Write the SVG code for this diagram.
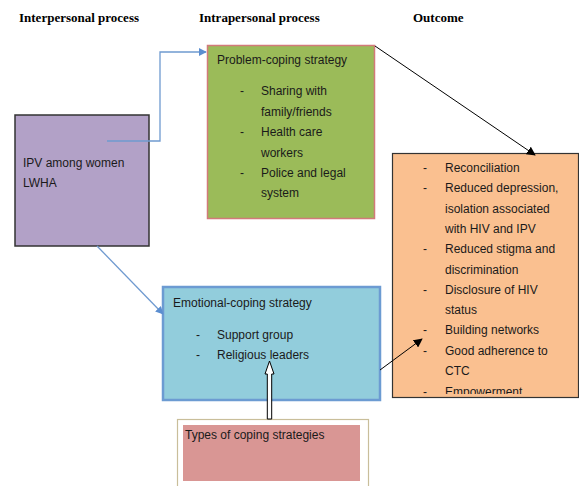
<svg xmlns="http://www.w3.org/2000/svg" width="579" height="486" viewBox="0 0 579 486">
<style>
.h{font-family:"Liberation Serif",serif;font-weight:bold;font-size:13px;fill:#000}
.t{font-family:"Liberation Sans",Arial,sans-serif;font-size:12px;fill:#1a1a1a}
</style>
<defs>
<marker id="ab" viewBox="0 0 10 10" refX="9" refY="5" markerWidth="8" markerHeight="8" markerUnits="userSpaceOnUse" orient="auto"><path d="M0,0L10,5L0,10z" fill="#5b8ed0"/></marker>
<marker id="ak" viewBox="0 0 10 10" refX="9" refY="5" markerWidth="9" markerHeight="9" markerUnits="userSpaceOnUse" orient="auto"><path d="M0,0L10,5L0,10z" fill="#000"/></marker>
<clipPath id="oc"><rect x="392" y="153" width="187" height="241"/></clipPath>
</defs>
<rect width="579" height="486" fill="#fff"/>
<text class="h" x="19" y="22">Interpersonal process</text>
<text class="h" x="199" y="22">Intrapersonal process</text>
<text class="h" x="413" y="22">Outcome</text>

<g id="ipv">
<rect x="15" y="115" width="134" height="131" fill="#B2A1C7" stroke="#333" stroke-width="1.5"/>
<text class="t" x="23" y="167">IPV among women</text>
<text class="t" x="23" y="187">LWHA</text>
</g>

<g id="problem">
<rect x="207.5" y="45.5" width="167" height="173" fill="#9BBB59" stroke="#D27A7A" stroke-width="1.5"/>
<text class="t" x="217" y="64">Problem-coping strategy</text>
<g class="t">
<text x="240" y="95">-</text><text x="261" y="95">Sharing with</text>
<text x="261" y="116">family/friends</text>
<text x="240" y="136">-</text><text x="261" y="136">Health care</text>
<text x="261" y="157">workers</text>
<text x="240" y="177">-</text><text x="261" y="177">Police and legal</text>
<text x="261" y="197">system</text>
</g>
</g>

<g id="emotional">
<rect x="163" y="287" width="217" height="113" fill="#92CDDC" stroke="#6C9BD2" stroke-width="2.5"/>
<text class="t" x="173" y="307">Emotional-coping strategy</text>
<text class="t" x="196" y="339">-</text><text class="t" x="217" y="339">Support group</text>
<text class="t" x="196" y="359">-</text><text class="t" x="217" y="359">Religious leaders</text>
</g>

<g id="outcome">
<rect x="392.5" y="153.5" width="186" height="244" fill="#FAC090" stroke="#333" stroke-width="1.2"/>
<g class="t" clip-path="url(#oc)">
<text x="423" y="172">-</text><text x="445" y="172">Reconciliation</text>
<text x="423" y="192">-</text><text x="445" y="192">Reduced depression,</text>
<text x="445" y="213">isolation associated</text>
<text x="445" y="233">with HIV and IPV</text>
<text x="423" y="253">-</text><text x="445" y="253">Reduced stigma and</text>
<text x="445" y="274">discrimination</text>
<text x="423" y="294">-</text><text x="445" y="294">Disclosure of HIV</text>
<text x="445" y="314">status</text>
<text x="423" y="334">-</text><text x="445" y="334">Building networks</text>
<text x="423" y="355">-</text><text x="445" y="355">Good adherence to</text>
<text x="445" y="375">CTC</text>
<text x="423" y="396">-</text><text x="445" y="396">Empowerment</text>
</g>
</g>

<g id="types">
<rect x="177.5" y="419.5" width="191" height="70" fill="#fff" stroke="#C9BE9A" stroke-width="1.2"/>
<rect x="183" y="425" width="177" height="56" fill="#D99694"/>
<text class="t" x="185" y="439">Types of coping strategies</text>
</g>

<g id="connectors" fill="none">
<path d="M107,141H160V52H206" stroke="#6f9ad0" stroke-width="1.3" marker-end="url(#ab)"/>
<path d="M97,246L163,314" stroke="#6f9ad0" stroke-width="1.3" marker-end="url(#ab)"/>
<path d="M375,46L535,155" stroke="#000" stroke-width="1" marker-end="url(#ak)"/>
<path d="M380,370L422,339" stroke="#000" stroke-width="1" marker-end="url(#ak)"/>
<path d="M267.3,419V374H265L269.5,361L274,374H271.7V419Z" fill="#fff" stroke="#000" stroke-width="1"/>
</g>
</svg>
